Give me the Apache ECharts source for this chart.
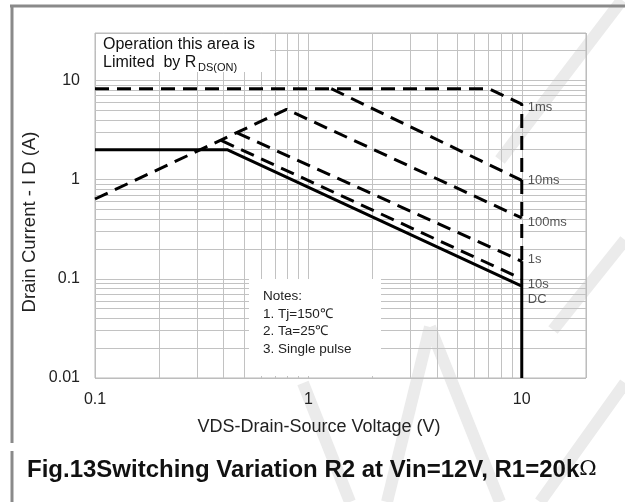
<!DOCTYPE html>
<html>
<head>
<meta charset="utf-8">
<script src="https://cdn.jsdelivr.net/npm/echarts@6/dist/echarts.min.js"></script>
<style>
html,body{margin:0;padding:0;background:#fff;}
#chart{width:625px;height:502px;}
</style>
</head>
<body>
<div id="chart"></div>
<script>
// ---- data (VDS in V, ID in A) ----
const dcV    = [0.1, 0.416, 10, 10];
const dcI    = [2.0, 2.0, 0.0845, 0.01];
const ms1V   = [0.1, 7.0, 10, 10];
const ms1I   = [8.24, 8.24, 5.77, 0.15];
const ms10V  = [1.28, 10];
const ms10I  = [8.24, 0.98];
const ms100V = [0.1, 0.79, 10];
const ms100I = [0.637, 5.1, 0.41];
const s1V    = [0.463, 10];
const s1I    = [2.95, 0.15];
const s10V   = [0.39, 10];
const s10I   = [2.48, 0.1];
const edgeV  = [10, 10];
const edgeI  = [0.15, 0.0845];

const curveLabels = ['1ms', '10ms', '100ms', '1s', '10s', 'DC'];
const curveLabelI = [5.33, 0.975, 0.366, 0.155, 0.0885, 0.0625];
const curveLabelV = [10, 10, 10, 10, 10, 10];

const xTicks = [0.1, 1, 10];
const xTickLabels = ['0.1', '1', '10'];
const yTicks = [0.01, 0.1, 1, 10];
const yTickLabels = ['0.01', '0.1', '1', '10'];

const xMinorGrid = [0.2,0.3,0.4,0.5,0.6,0.7,0.8,0.9,2,3,4,5,6,7,8,9];
const yMinorGrid = [0.02,0.03,0.04,0.05,0.06,0.07,0.08,0.09,0.2,0.3,0.4,0.5,0.6,0.7,0.8,0.9,2,3,4,5,6,7,8,9,20];

const notes = ['Notes:', '1. Tj=150\u2103', '2. Ta=25\u2103', '3. Single pulse'];

function pairs(xs, ys){ return xs.map((x,i)=>[x, ys[i]]); }
function tickFmt(ticks, labels){
  return function(v){
    for (let i=0;i<ticks.length;i++){
      if (Math.abs(Math.log10(v) - Math.log10(ticks[i])) < 1e-6) return labels[i];
    }
    return '';
  };
}

const FF = 'Liberation Sans, Arial, sans-serif';
const dash = [14, 8];
const lineBase = {type:'line', symbol:'none', silent:true, animation:false, z:5};
function dashed(name, xs, ys){
  return Object.assign({}, lineBase, {name, data: pairs(xs, ys),
    lineStyle:{color:'#000', width:3, type:dash}});
}
function solid(name, xs, ys){
  return Object.assign({}, lineBase, {name, data: pairs(xs, ys),
    lineStyle:{color:'#000', width:3, type:'solid'}});
}

const gridLineStyle = {color:'#c2c2c2', width:1, type:'solid'};

const chart = echarts.init(document.getElementById('chart'), null, {renderer:'canvas'});

const wm = '#ebebeb';
function wmLine(x1,y1,x2,y2){
  return {type:'line', z:-10, silent:true, shape:{x1,y1,x2,y2}, style:{stroke:wm, lineWidth:12}};
}

chart.setOption({
  animation:false,
  backgroundColor:'#fff',
  grid:{left:95, right:39, top:33, bottom:124, show:true, borderColor:'#b8b8b8', borderWidth:1, z:1},
  xAxis:{
    type:'log', logBase:10, min:0.1, max:20,
    axisLine:{show:false}, axisTick:{show:false},
    axisLabel:{formatter:tickFmt(xTicks, xTickLabels), fontSize:16, color:'#222', margin:14, fontFamily:FF},
    splitLine:{show:true, lineStyle:gridLineStyle}
  },
  yAxis:{
    type:'log', logBase:10, min:0.01, max:30,
    axisLine:{show:false}, axisTick:{show:false},
    axisLabel:{formatter:tickFmt(yTicks, yTickLabels), fontSize:16, color:'#222', margin:15, fontFamily:FF},
    splitLine:{show:true, lineStyle:gridLineStyle}
  },
  series:[
    {type:'line', name:'grid', data:[[0.1,0.01]], symbol:'none', silent:true, z:2,
      lineStyle:{width:0},
      markLine:{silent:true, symbol:['none','none'], label:{show:false}, animation:false,
        lineStyle:gridLineStyle,
        data: xMinorGrid.map(v=>({xAxis:v})).concat(yMinorGrid.map(v=>({yAxis:v})))}
    },
    dashed('1ms', ms1V, ms1I),
    dashed('10ms', ms10V, ms10I),
    dashed('100ms', ms100V, ms100I),
    dashed('1s', s1V, s1I),
    dashed('10s', s10V, s10I),
    solid('DC', dcV, dcI),
    solid('edge', edgeV, edgeI),
    {type:'scatter', name:'labels', symbolSize:0, silent:true, z:6,
      data: curveLabelV.map((x,i)=>({value:[x, curveLabelI[i]], label:{formatter:curveLabels[i]}})),
      label:{show:true, position:'right', distance:6, fontSize:13, color:'#2a2a2a', fontFamily:FF}
    }
  ],
  graphic:[
    // watermark strokes
    wmLine(622,0,500,160),
    wmLine(625,240,553,330),
    wmLine(625,383,540,502),
    wmLine(303,383,350,502),
    wmLine(430,327,387,502),
    wmLine(430,327,500,502),
    // frame
    {type:'line', z:50, silent:true, shape:{x1:10,y1:6,x2:625,y2:6}, style:{stroke:'#8a8a8a', lineWidth:3}},
    {type:'line', z:50, silent:true, shape:{x1:12,y1:5,x2:12,y2:443}, style:{stroke:'#8a8a8a', lineWidth:3}},
    {type:'line', z:50, silent:true, shape:{x1:12,y1:451,x2:12,y2:502}, style:{stroke:'#8a8a8a', lineWidth:3}},
    // annotation boxes (white, covering grid)
    {type:'rect', z:40, silent:true, shape:{x:96,y:34,width:174,height:38}, style:{fill:'#fff'}},
    {type:'rect', z:40, silent:true, shape:{x:249,y:279,width:132,height:97}, style:{fill:'#fff'}},
    {type:'text', z:41, silent:true, x:103, y:45, style:{text:'Operation this area is', fontSize:16, fill:'#111', fontFamily:FF, textVerticalAlign:'middle'}},
    {type:'text', z:41, silent:true, x:103, y:63, style:{text:'Limited  by R', fontSize:16, fill:'#111', fontFamily:FF, textVerticalAlign:'middle'}},
    {type:'text', z:41, silent:true, x:198, y:68, style:{text:'DS(ON)', fontSize:11, fill:'#111', fontFamily:FF, textVerticalAlign:'middle'}},
    {type:'text', z:41, silent:true, x:263, y:288, style:{text:notes.join('\n'), fontSize:13.5, lineHeight:17.5, fill:'#222', fontFamily:FF, textVerticalAlign:'top'}},
    // x axis name
    {type:'text', z:41, silent:true, x:319, y:427,
      style:{text:'VDS-Drain-Source Voltage (V)', fontSize:18, fill:'#222', fontFamily:FF, textAlign:'center', textVerticalAlign:'middle'}},
    // y axis name
    {type:'text', z:41, silent:true, x:30, y:222, rotation:Math.PI/2,
      style:{text:'Drain Current - I D (A)', fontSize:18.5, fill:'#222', fontFamily:FF, textAlign:'center', textVerticalAlign:'middle'}},
    // title
    {type:'text', z:41, silent:true, x:27, y:470,
      style:{text:'{b|Fig.13Switching Variation R2 at Vin=12V, R1=20k}{o|\u03A9}', textVerticalAlign:'middle',
        rich:{b:{fontSize:24, fontWeight:'bold', fill:'#111', fontFamily:FF},
              o:{fontSize:21, fill:'#111', fontFamily:'DejaVu Serif, serif'}}}}
  ]
});
</script>
</body>
</html>
